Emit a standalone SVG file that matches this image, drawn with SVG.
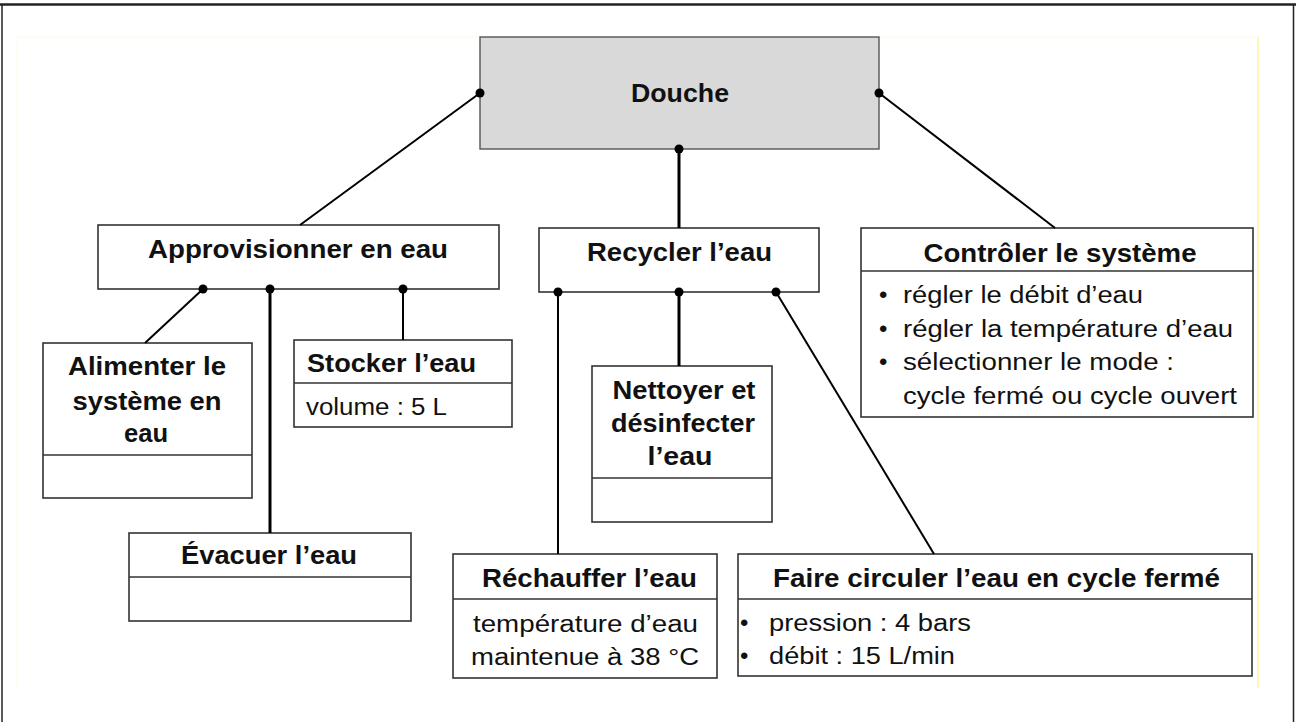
<svg xmlns="http://www.w3.org/2000/svg" width="1296" height="722" viewBox="0 0 1296 722">
<style>
.box{fill:#ffffff;stroke:#333333;stroke-width:1.6}
.root{fill:#d9d9d9;stroke:#555555;stroke-width:1.4}
.div{stroke:#333333;stroke-width:1.6}
.t{font-family:"Liberation Sans",Arial,sans-serif;font-weight:bold;font-size:26.5px;fill:#111111}
.b{font-family:"Liberation Sans",Arial,sans-serif;font-size:23.5px;fill:#111111}
.bl{font-family:"Liberation Sans",Arial,sans-serif;font-size:24px;fill:#111111}
.c{stroke:#000000;stroke-width:2;fill:none}
.cv{stroke:#000000;stroke-width:3;fill:none}
.dot{fill:#000000}
</style>
<rect x="0" y="0" width="1296" height="722" fill="#ffffff"/>
<g id="frame">
<line x1="0" y1="4.5" x2="1296" y2="4.5" stroke="#222" stroke-width="2.5"/>
<line x1="2" y1="4" x2="2" y2="722" stroke="#222" stroke-width="1.5"/>
<line x1="1293.5" y1="4" x2="1293.5" y2="722" stroke="#222" stroke-width="1.5"/>
<line x1="17" y1="37" x2="1258" y2="37" stroke="#fbfbe6" stroke-width="1"/>
<line x1="17" y1="37" x2="17" y2="688" stroke="#fbfbe6" stroke-width="1"/>
<line x1="1258" y1="37" x2="1258" y2="688" stroke="#fff3a0" stroke-width="1.5"/>
</g>
<g id="douche">
<rect class="root" x="480" y="37" width="399" height="112"/>
<text class="t" x="680" y="102" text-anchor="middle" textLength="98" lengthAdjust="spacingAndGlyphs">Douche</text>
</g>
<g id="approvisionner">
<rect class="box" x="98" y="225" width="401" height="64"/>
<text class="t" x="298" y="258" text-anchor="middle" textLength="300" lengthAdjust="spacingAndGlyphs">Approvisionner en eau</text>
</g>
<g id="recycler">
<rect class="box" x="539" y="228" width="280" height="64"/>
<text class="t" x="679.5" y="261" text-anchor="middle" textLength="185" lengthAdjust="spacingAndGlyphs">Recycler l’eau</text>
</g>
<g id="controler">
<rect class="box" x="861" y="228" width="392" height="189"/>
<line class="div" x1="861" y1="271" x2="1253" y2="271"/>
<text class="t" x="1060" y="262" text-anchor="middle" textLength="273" lengthAdjust="spacingAndGlyphs">Contrôler le système</text>
<text class="bl" x="879" y="303">•</text>
<text class="bl" x="879" y="337">•</text>
<text class="bl" x="879" y="370">•</text>
<text class="b" x="903" y="303" textLength="240" lengthAdjust="spacingAndGlyphs">régler le débit d’eau</text>
<text class="b" x="903" y="337" textLength="330" lengthAdjust="spacingAndGlyphs">régler la température d’eau</text>
<text class="b" x="903" y="370" textLength="271" lengthAdjust="spacingAndGlyphs">sélectionner le mode :</text>
<text class="b" x="903" y="404" textLength="334" lengthAdjust="spacingAndGlyphs">cycle fermé ou cycle ouvert</text>
</g>
<g id="alimenter">
<rect class="box" x="43" y="343" width="209" height="155"/>
<line class="div" x1="43" y1="455" x2="252" y2="455"/>
<text class="t" x="147" y="375" text-anchor="middle" textLength="158" lengthAdjust="spacingAndGlyphs">Alimenter le</text>
<text class="t" x="147" y="410" text-anchor="middle" textLength="149" lengthAdjust="spacingAndGlyphs">système en</text>
<text class="t" x="146" y="442" text-anchor="middle" textLength="44" lengthAdjust="spacingAndGlyphs">eau</text>
</g>
<g id="stocker">
<rect class="box" x="294" y="340" width="218" height="87"/>
<line class="div" x1="294" y1="383" x2="512" y2="383"/>
<text class="t" x="307" y="372" textLength="169" lengthAdjust="spacingAndGlyphs">Stocker l’eau</text>
<text class="b" x="306" y="415" textLength="141" lengthAdjust="spacingAndGlyphs">volume : 5 L</text>
</g>
<g id="evacuer">
<rect class="box" x="129" y="533" width="282" height="88"/>
<line class="div" x1="129" y1="577" x2="411" y2="577"/>
<text class="t" x="269" y="564" text-anchor="middle" textLength="176" lengthAdjust="spacingAndGlyphs">Évacuer l’eau</text>
</g>
<g id="nettoyer">
<rect class="box" x="592" y="366" width="180" height="156"/>
<line class="div" x1="592" y1="478" x2="772" y2="478"/>
<text class="t" x="684" y="399" text-anchor="middle" textLength="143" lengthAdjust="spacingAndGlyphs">Nettoyer et</text>
<text class="t" x="683" y="432" text-anchor="middle" textLength="144" lengthAdjust="spacingAndGlyphs">désinfecter</text>
<text class="t" x="680" y="465" text-anchor="middle" textLength="65" lengthAdjust="spacingAndGlyphs">l’eau</text>
</g>
<g id="rechauffer">
<rect class="box" x="453" y="554" width="264" height="124"/>
<line class="div" x1="453" y1="599" x2="717" y2="599"/>
<text class="t" x="589.5" y="587" text-anchor="middle" textLength="215" lengthAdjust="spacingAndGlyphs">Réchauffer l’eau</text>
<text class="b" x="585.5" y="632" text-anchor="middle" textLength="225" lengthAdjust="spacingAndGlyphs">température d’eau</text>
<text class="b" x="585" y="665" text-anchor="middle" textLength="228" lengthAdjust="spacingAndGlyphs">maintenue à 38 °C</text>
</g>
<g id="faire-circuler">
<rect class="box" x="738" y="554" width="514" height="122"/>
<line class="div" x1="738" y1="599" x2="1252" y2="599"/>
<text class="t" x="996.5" y="587" text-anchor="middle" textLength="447" lengthAdjust="spacingAndGlyphs">Faire circuler l’eau en cycle fermé</text>
<text class="bl" x="740" y="631">•</text>
<text class="bl" x="740" y="664">•</text>
<text class="b" x="769" y="631" textLength="202" lengthAdjust="spacingAndGlyphs">pression : 4 bars</text>
<text class="b" x="769" y="664" textLength="186" lengthAdjust="spacingAndGlyphs">débit : 15 L/min</text>
</g>
<g id="connectors">
<line class="c" x1="300" y1="225" x2="480" y2="93"/>
<line class="c" x1="879" y1="93" x2="1055" y2="228"/>
<line class="cv" x1="679" y1="149" x2="679" y2="228"/>
<line class="c" x1="203" y1="289" x2="145" y2="343"/>
<line class="cv" x1="270" y1="289" x2="270" y2="533"/>
<line class="c" x1="403" y1="289" x2="403" y2="340"/>
<line class="c" x1="558" y1="292" x2="558" y2="554"/>
<line class="cv" x1="679" y1="292" x2="679" y2="366"/>
<line class="c" x1="776" y1="292" x2="934" y2="554"/>
<circle class="dot" cx="480" cy="93" r="4.5"/>
<circle class="dot" cx="879" cy="93" r="4.5"/>
<circle class="dot" cx="679" cy="149" r="4.5"/>
<circle class="dot" cx="203" cy="289" r="4.5"/>
<circle class="dot" cx="270" cy="289" r="4.5"/>
<circle class="dot" cx="403" cy="289" r="4.5"/>
<circle class="dot" cx="558" cy="292" r="4.5"/>
<circle class="dot" cx="679" cy="292" r="4.5"/>
<circle class="dot" cx="776" cy="292" r="4.5"/>
</g>
</svg>
